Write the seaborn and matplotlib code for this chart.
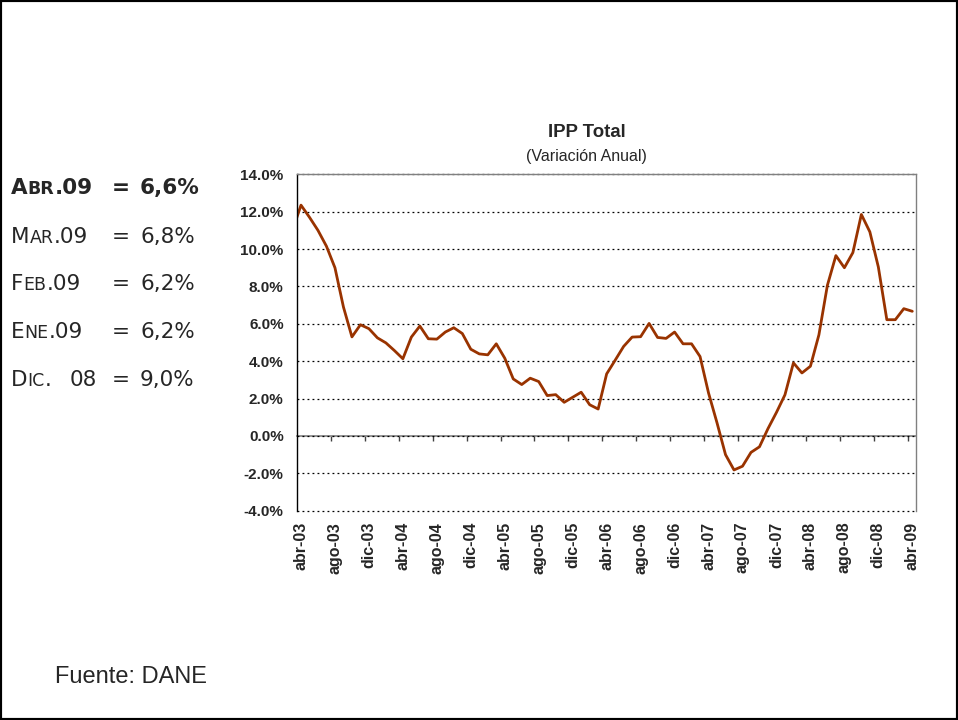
import matplotlib
matplotlib.use("Agg")
import matplotlib.pyplot as plt
import seaborn as sns
import pandas as pd
from matplotlib.patches import Rectangle
from matplotlib.ticker import FuncFormatter

# ---------------- data ----------------
mes_abrev = ["ene", "feb", "mar", "abr", "may", "jun", "jul", "ago", "sep", "oct", "nov", "dic"]
# months from mar-03 to abr-09 (mar-03 sits just left of the axis, clipped)
meses = [f"{mes_abrev[(2 + i) % 12]}-{(3 + (2 + i) // 12):02d}" for i in range(74)]
posicion = list(range(-1, 73))  # abr-03 = 0

ipp_var_anual = [
    11.0,
    12.35, 11.7, 11.0, 10.15, 9.0, 6.9, 5.3, 5.95, 5.74, 5.25, 4.98, 4.57,
    4.13, 5.29, 5.88, 5.2, 5.18, 5.56, 5.79, 5.48, 4.64, 4.39, 4.34, 4.93,
    4.16, 3.05, 2.75, 3.09, 2.91, 2.16, 2.21, 1.80, 2.07, 2.34, 1.67, 1.44,
    3.32, 4.05, 4.79, 5.29, 5.31, 6.02, 5.27, 5.22, 5.56, 4.93, 4.93, 4.25,
    2.3, 0.7, -1.0, -1.82, -1.62, -0.88, -0.58, 0.39, 1.26, 2.2, 3.91, 3.37,
    3.73, 5.41, 8.06, 9.65, 9.0, 9.81, 11.85, 10.92, 9.04, 6.22, 6.22, 6.81,
    6.67,
]

tick_pos = list(range(0, 73, 4))
tick_labels = ["abr-03", "ago-03", "dic-03", "abr-04", "ago-04", "dic-04",
               "abr-05", "ago-05", "dic-05", "abr-06", "ago-06", "dic-06",
               "abr-07", "ago-07", "dic-07", "abr-08", "ago-08", "dic-08",
               "abr-09"]
y_ticks = [-4, -2, 0, 2, 4, 6, 8, 10, 12, 14]

# left side text: (pieces of first word), value, weight
resumen = [
    ([("A", "big"), ("BR", "small"), (".09", "big")], "6,6%", "bold"),
    ([("M", "big"), ("AR", "small"), (".09", "big")], "6,8%", "normal"),
    ([("F", "big"), ("EB", "small"), (".09", "big")], "6,2%", "normal"),
    ([("E", "big"), ("NE", "small"), (".09", "big")], "6,2%", "normal"),
    ([("D", "big"), ("IC", "small"), (".", "big")], "9,0%", "normal"),
]
resumen_extra = ["", "", "", "", "08"]

df = pd.DataFrame({"pos": posicion, "mes": meses, "valor": ipp_var_anual})

# ---------------- figure ----------------
sns.set_style("white")
plt.rcParams["font.family"] = ["Liberation Sans", "DejaVu Sans"]

W, H = 958, 720
fig = plt.figure(figsize=(W / 100, H / 100), dpi=100)
fig.patch.set_facecolor("white")

ax = fig.add_axes([297 / W, 1 - 510.7 / H, (915.7 - 297) / W, (510.7 - 174.3) / H])

sns.lineplot(data=df, x="pos", y="valor", ax=ax, color="#993300", linewidth=2.0,
             sort=False, legend=False)

ax.set_xlim(-0.47, 72.4)
ax.set_ylim(-4, 14)
ax.set_xlabel("")
ax.set_ylabel("")

ax.set_yticks(y_ticks)
ax.yaxis.set_major_formatter(FuncFormatter(lambda v, p: f"{v:.1f}%"))
ax.tick_params(axis="y", direction="out", length=3.6, width=1, color="black",
               labelsize=11, pad=6.0)
for lab in ax.get_yticklabels():
    lab.set_fontweight("bold")

ax.set_xticks(tick_pos)
ax.set_xticklabels(tick_labels, rotation=90, fontweight="bold", fontsize=11.5)
ax.tick_params(axis="x", length=0, pad=8)

ax.yaxis.grid(True, color="black", linestyle=(0, (1.5, 2.5)), linewidth=0.9)
ax.xaxis.grid(False)
ax.set_axisbelow(True)
for gl in ax.get_ygridlines():
    gl.set_clip_on(False)

ax.spines["bottom"].set_visible(False)
ax.spines["left"].set_color("black")
ax.spines["left"].set_linewidth(1.0)
for s in ["top", "right"]:
    ax.spines[s].set_color("#808080")
    ax.spines[s].set_linewidth(1.0)

# horizontal axis line at 0 % with tick marks between categories
sec = ax.secondary_xaxis(4 / 18)
sec.set_xticks([p - 0.5 for p in tick_pos])
sec.set_xticklabels([""] * len(tick_pos))
sec.tick_params(axis="x", direction="out", length=3.6, width=1, color="#404040")
sec.spines["bottom"].set_color("#808080")
sec.spines["bottom"].set_linewidth(1.2)

# titles
fig.text(586.7 / W, 1 - 137.3 / H, "IPP Total", ha="center", va="baseline",
         fontsize=13.4, fontweight="bold")
fig.text(586.8 / W, 1 - 161.5 / H, "(Variación Anual)", ha="center", va="baseline",
         fontsize=11.5)

# source
fig.text(55 / W, 1 - 683.3 / H, "Fuente: DANE", ha="left", va="baseline", fontsize=17)

# left summary text (small-caps imitation)
renderer = fig.canvas.get_renderer()
sizes = {"big": 15.5, "small": 12.5}
baselines = [194.3, 242.7, 290.0, 337.7, 386.0]
for (pieces, valor, weight), extra, yb in zip(resumen, resumen_extra, baselines):
    x = 11.0
    for txt, kind in pieces:
        t = fig.text(x / W, 1 - yb / H, txt, ha="left", va="baseline",
                     fontsize=sizes[kind], fontweight=weight, family="DejaVu Sans")
        x += t.get_window_extent(renderer=renderer).width
    if extra:
        fig.text(70 / W, 1 - yb / H, extra, ha="left", va="baseline",
                 fontsize=sizes["big"], fontweight=weight, family="DejaVu Sans")
    fig.text(112 / W, 1 - yb / H, "=", ha="left", va="baseline",
             fontsize=sizes["big"], fontweight=weight, family="DejaVu Sans")
    fig.text(140 / W, 1 - yb / H, valor, ha="left", va="baseline",
             fontsize=sizes["big"], fontweight=weight, family="DejaVu Sans")

# slide frame
fig.patches.append(Rectangle((0, 0), 1, 1, transform=fig.transFigure, fill=False,
                             edgecolor="black", linewidth=3, zorder=10))

fig.savefig("out.png", dpi=100)
